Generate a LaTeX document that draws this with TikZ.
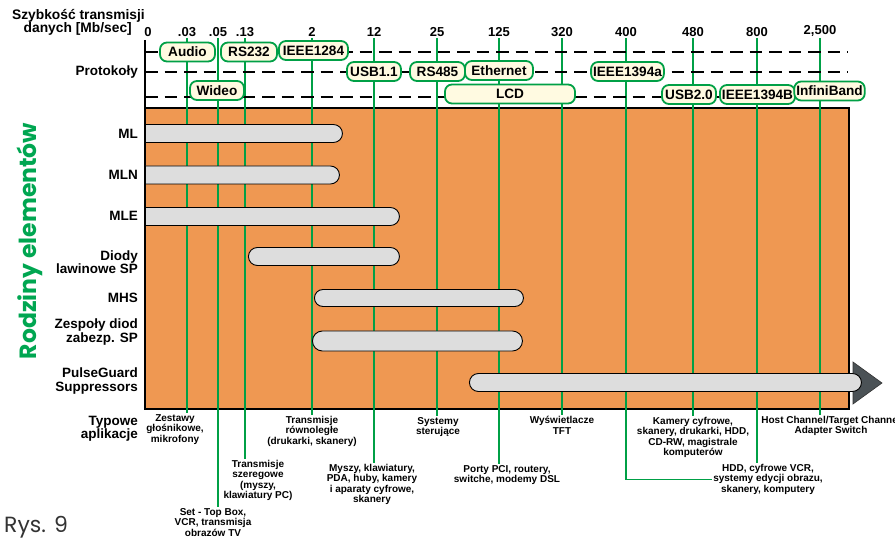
\documentclass[tikz,border=0pt]{standalone}
\usepackage{fontspec}
\setmainfont{Liberation Sans}
\newfontfamily\geofont{Poppins}
\usetikzlibrary{shapes.misc}

\definecolor{orangebg}{RGB}{239,152,82}
\definecolor{pgreen}{RGB}{0,160,70}
\definecolor{titlegreen}{RGB}{0,166,81}
\definecolor{cream}{RGB}{255,250,225}
\definecolor{bargray}{RGB}{221,221,221}
\definecolor{arrowgray}{RGB}{75,82,86}

\begin{document}
\begin{tikzpicture}[
    x=1pt, y=-1pt,
    every node/.style={inner sep=1pt},
    numtxt/.style={font=\bfseries\fontsize{13}{13}\selectfont, anchor=south},
    apptxt/.style={font=\bfseries\fontsize{10}{10.5}\selectfont, align=center, anchor=north},
    rowtxt/.style={font=\bfseries\fontsize{13.5}{13.5}\selectfont, align=right, anchor=east},
    proto/.style={draw=pgreen, line width=1.8pt, fill=cream, rounded corners=7pt,
        minimum height=19pt, inner xsep=2pt, font=\bfseries\fontsize{13.6}{13.6}\selectfont},
    bar/.style={rounded rectangle, draw=black, line width=0.9pt, fill=bargray,
        minimum height=18pt, inner sep=0pt, anchor=west},
    tick/.style={draw=pgreen, line width=1.1pt},
    dashline/.style={line width=1.6pt, dash pattern=on 12.5pt off 7pt}
]
    \useasboundingbox (0,0) rectangle (895,540);

    % Pole rodzin elementow
    \draw[fill=orangebg, line width=1.8pt] (145,108) rectangle (849,409);
    \draw[line width=1.8pt] (145,40) -- (145,108);

    % Opisy osi
    \node[anchor=north east, align=right, font=\bfseries\fontsize{13.8}{13}\selectfont] (hdr) at (146,8)
        {Szybkość transmisji\\danych [Mb/sec]\hspace*{13pt}};
    \node[rowtxt] (proto) at (139,72) {Protokoły};
    \node[rowtxt, font=\bfseries\fontsize{13.5}{13}\selectfont] (typ) at (139,429) {Typowe\\aplikacje};
    \node[rotate=90, text=titlegreen, font=\geofont\bfseries\fontsize{23.5}{23.5}\selectfont] (title) at (30,241)
        {Rodziny elementów};
    \node[anchor=west, text=black!80, font=\geofont\fontsize{22}{22}\selectfont] (rys) at (3,527)
        {Rys.\hspace{8pt}9};

    % Szybkosci
    \node[numtxt] (t0) at (148,38) {0};
    \node[numtxt] (t1) at (187,38) {.03};
    \node[numtxt] (t2) at (218,38) {.05};
    \node[numtxt] (t3) at (245,38) {.13};
    \node[numtxt] (t4) at (312,38) {2};
    \node[numtxt] (t5) at (374,38) {12};
    \node[numtxt] (t6) at (437,38) {25};
    \node[numtxt] (t7) at (499,38) {125};
    \node[numtxt] (t8) at (562,38) {320};
    \node[numtxt] (t9) at (626,38) {400};
    \node[numtxt] (t10) at (693,38) {480};
    \node[numtxt] (t11) at (757,38) {800};
    \node[numtxt] (t12) at (820,38) {2,500};

    % Typowe aplikacje
    \node[apptxt] (a1) at (175,413) {Zestawy\\głośnikowe,\\mikrofony};
    \node[apptxt] (a2) at (213,507) {Set - Top Box,\\VCR, transmisja\\obrazów TV};
    \node[apptxt] (a3) at (258,459) {Transmisje\\szeregowe\\(myszy,\\klawiatury PC)};
    \node[apptxt] (a4) at (312,415) {Transmisje\\równoległe\\(drukarki, skanery)};
    \node[apptxt] (a5) at (372,463) {Myszy, klawiatury,\\PDA, huby, kamery\\i aparaty cyfrowe,\\skanery};
    \node[apptxt] (a6) at (438,416) {Systemy\\sterujące};
    \node[apptxt] (a7) at (507,464) {Porty PCI, routery,\\switche, modemy DSL};
    \node[apptxt] (a8) at (562,415) {Wyświetlacze\\TFT};
    \node[apptxt] (a9) at (768,463) {HDD, cyfrowe VCR,\\systemy edycji obrazu,\\skanery, komputery};
    \node[apptxt] (a10) at (693,416) {Kamery cyfrowe,\\skanery, drukarki, HDD,\\CD-RW, magistrale\\komputerów};
    \node[apptxt] (a12) at (831,415) {Host Channel/Target Channel\\Adapter Switch};

    % Linie od szybkosci do aplikacji
    \foreach \i in {1,...,8,10,12}
        \draw[tick] (t\i.south) -- (t\i.south |- a\i.north);
    \draw[tick] (t9.south) |- (a9.west);
    \draw[tick] (t11.south) -- (t11.south |- a9.north);

    % Linie protokolow
    \foreach \y in {52,72,97}
        \draw[dashline] (145,\y) -- (848,\y);

    % Protokoly
    \node[proto, minimum width=55pt] (pAudio) at (187.5,52) {Audio};
    \node[proto, minimum width=56pt] (pRS232) at (249,52) {RS232};
    \node[proto, minimum width=69pt] (pIEEEa) at (313.5,50.5) {IEEE1284};
    \node[proto, minimum width=54pt] (pWideo) at (217,90.5) {Wideo};
    \node[proto, minimum width=54pt] (pUSBa) at (374,71.5) {USB1.1};
    \node[proto, minimum width=55pt] (pRS485) at (437.5,71.5) {RS485};
    \node[proto, minimum width=68pt] (pEth) at (499,70.5) {Ethernet};
    \node[proto, minimum width=130pt] (pLCD) at (510,94) {LCD};
    \node[proto, minimum width=71pt] (pIEEEb) at (627.5,71.5) {IEEE1394a};
    \node[proto, minimum width=54pt] (pUSBb) at (689,94.5) {USB2.0};
    \node[proto, minimum width=71pt] (pIEEEc) at (757.5,94.5) {IEEE1394B};
    \node[proto, minimum width=65pt] (pIB) at (829.5,91) {InfiniBand};

    % Rodziny elementow
    \node[rowtxt] (r1) at (139,134) {ML};
    \node[rowtxt] (r2) at (139,175) {MLN};
    \node[rowtxt] (r3) at (139,216) {MLE};
    \node[rowtxt] (r4) at (139,262) {Diody\\lawinowe SP};
    \node[rowtxt] (r5) at (139,298) {MHS};
    \node[rowtxt] (r6) at (139,332) {Zespoły diod\\zabezp. SP};
    \node[rowtxt] (r7) at (139,381) {PulseGuard\\Suppressors};

    % Zakresy
    \filldraw[fill=arrowgray, draw=black!80, line width=0.6pt] (853,362) -- (882,383) -- (853,404) -- cycle;
    \node[bar, rounded rectangle west arc=none, minimum width=197pt] (b1) at (145,133.5) {};
    \node[bar, rounded rectangle west arc=none, minimum width=194pt] (b2) at (145,175) {};
    \node[bar, rounded rectangle west arc=none, minimum width=254pt] (b3) at (145,216.5) {};
    \node[bar, minimum width=151pt] (b4) at (248,256.5) {};
    \node[bar, minimum width=209pt, minimum height=17pt] (b5) at (314,298) {};
    \node[bar, minimum width=210pt, minimum height=20pt] (b6) at (312,341) {};
    \node[bar, minimum width=392pt] (b7) at (469,382.5) {};
\end{tikzpicture}
\end{document}
